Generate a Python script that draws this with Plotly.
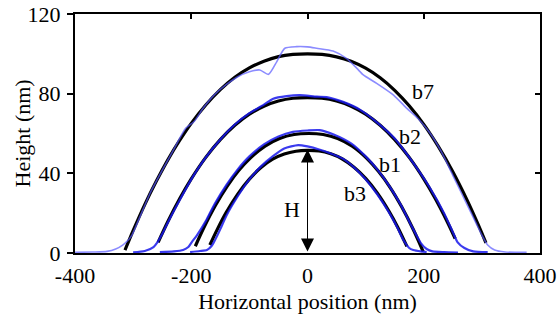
import plotly.graph_objects as go

# ---- data ----
# fitted profiles (black)
b7_fit_x = [-314, -300, -280, -260, -240, -220, -200, -175, -150, -125, -100, -75, -50, -25, 0,
            25, 50, 75, 100, 125, 150, 175, 200, 225, 250, 275, 295, 307]
b7_fit_y = [1.4, 11.2, 24.3, 36.1, 46.9, 56.5, 65.1, 74.3, 82.0, 88.2, 92.9, 96.3, 98.6, 99.7, 100,
            99.7, 98.5, 96.3, 92.8, 88.0, 81.7, 73.9, 64.6, 53.5, 40.8, 26.3, 13.4, 5.1]

b2_fit_x = [-257, -240, -220, -200, -175, -150, -125, -100, -75, -50, -25, 0,
            25, 50, 75, 100, 125, 150, 175, 200, 220, 240, 254]
b2_fit_y = [5.3, 15.9, 27.2, 37.2, 48.0, 56.9, 64.1, 69.7, 73.7, 76.3, 77.7, 78,
            77.7, 76.3, 73.7, 69.7, 64.1, 56.9, 48.0, 37.2, 27.2, 15.9, 7.2]

b1_fit_x = [-193, -178, -158, -138, -118, -98, -73, -48, -23, 2,
            27, 52, 77, 102, 122, 142, 162, 182, 199]
b1_fit_y = [3.4, 12.9, 24.1, 33.6, 41.5, 47.8, 53.7, 57.5, 59.5, 60,
            59.5, 57.5, 53.6, 47.5, 41.0, 33.0, 23.2, 11.8, 0.7]

b3_fit_x = [-168, -155, -140, -120, -100, -80, -60, -40, -20, 0,
            20, 40, 60, 80, 100, 120, 140, 155, 171]
b3_fit_y = [4.0, 12.0, 20.3, 29.6, 37.1, 42.9, 47.1, 49.7, 51.1, 51.5,
            51.2, 49.8, 47.2, 43.1, 37.5, 30.2, 21.1, 13.1, 3.3]

# measured profiles (blue)
b7_meas_x = [-400, -370, -345, -330, -318, -310, -302, -290, -270, -250, -230, -210, -195, -180,
             -160, -140, -120, -100, -82, -67, -53, -39, -19, 0, 16, 44, 67, 85, 96, 119, 148,
             171, 190, 210, 230, 250, 270, 290, 300, 310, 322, 340, 377]
b7_meas_y = [0.3, 0.5, 0.8, 2, 4, 6, 9, 17, 30.5, 41.5, 52, 62.5, 66, 72.5,
             79.5, 84.5, 88.5, 91, 91.9, 89.7, 96, 102.8, 103.6, 103.5, 102.8, 101.4, 97.7, 92.7,
             89.4, 85.2, 79.3, 72.6, 67.5, 60.5, 51, 39, 27, 15, 9, 4, 1.5, 0.5, 0.3]

b2_meas_x = [-300, -280, -265, -258, -250, -240, -220, -200, -175, -150, -125, -100, -75, -59,
             -36, -13, 16, 33, 60, 90, 120, 150, 180, 210, 235, 250, 258, 270, 285, 310]
b2_meas_y = [0.3, 1, 3, 5.5, 9.5, 15.5, 26.5, 37, 48, 57, 64.5, 70.2, 74.5, 77.5,
             78.8, 79.3, 78.5, 78.3, 76, 72, 65.5, 57.5, 46, 33, 20, 10.5, 5.5, 2.5, 0.8, 0.4]

b1_meas_x = [-254, -230, -214, -205, -199, -190, -175, -160, -140, -120, -100, -75, -50, -25, 0,
             21, 45, 75, 100, 120, 140, 160, 180, 195, 205, 215, 235, 259]
b1_meas_y = [0.4, 0.8, 1.5, 3, 5.5, 9, 16, 24.5, 34, 42, 48.5, 54.5, 58.5, 60.8, 61.5,
             61.7, 59.5, 55, 48.5, 42, 34, 24.5, 13, 5, 2, 0.8, 0.4, 0.2]

b3_meas_x = [-202, -185, -173, -165, -160, -150, -140, -120, -100, -80, -60, -40, -16, 0,
             20, 40, 60, 80, 100, 120, 140, 155, 165, 175, 182, 195, 205]
b3_meas_y = [0.5, 1, 1.5, 3.5, 6, 12, 18.5, 28.5, 37, 43.5, 48.5, 52.5, 54.2, 53.5,
             52, 50, 47.5, 43, 37, 29.5, 20.5, 12.5, 6.5, 2.5, 1.5, 0.8, 0.5]

labels = ["b7", "b2", "b1", "b3"]
label_x = [199, 176, 142, 82]
label_y = [81, 58.4, 44.2, 30]

x_ticks = [-400, -200, 0, 200, 400]
x_tick_text = ["-400", "-200", "0", "200", "400"]
y_ticks = [0, 40, 80, 120]
y_tick_text = ["0", "40", "80", "120"]

H_peak = 52

# ---- figure ----
FONT = "Liberation Serif, Times New Roman, serif"
fig = go.Figure()

fits = [(b7_fit_x, b7_fit_y), (b2_fit_x, b2_fit_y), (b1_fit_x, b1_fit_y), (b3_fit_x, b3_fit_y)]
meas = [(b7_meas_x, b7_meas_y, "rgba(90,90,255,0.7)", 1.6),
        (b2_meas_x, b2_meas_y, "rgba(25,25,235,0.85)", 2.2),
        (b1_meas_x, b1_meas_y, "rgba(25,25,235,0.85)", 2.2),
        (b3_meas_x, b3_meas_y, "rgba(25,25,235,0.85)", 2.2)]

for fx, fy in fits:
    fig.add_trace(go.Scatter(x=fx, y=fy, mode="lines", line=dict(color="black", width=3.2, shape="spline"),
                             showlegend=False, hoverinfo="skip"))
for mx, my, col, w in meas:
    fig.add_trace(go.Scatter(x=mx, y=my, mode="lines", line=dict(color=col, width=w, shape="spline", smoothing=0.6),
                             showlegend=False, hoverinfo="skip"))

# overlay trace for mirrored (inside-tick) axes
fig.add_trace(go.Scatter(x=[None], y=[None], xaxis="x2", yaxis="y2", showlegend=False, hoverinfo="skip"))

for t, tx, ty in zip(labels, label_x, label_y):
    fig.add_annotation(x=tx, y=ty, text=t, showarrow=False, font=dict(family=FONT, size=22, color="black"))

fig.add_annotation(x=-27, y=21.6, text="H", showarrow=False, font=dict(family=FONT, size=22, color="black"))
fig.add_annotation(x=0, y=H_peak, ax=0, ay=0, xref="x", yref="y", axref="x", ayref="y",
                   text="", showarrow=True, arrowhead=2, startarrowhead=2, arrowside="end+start",
                   arrowsize=2.6, startarrowsize=2.6, arrowwidth=1, arrowcolor="black")

common_font = dict(family=FONT, size=22, color="black")

# y-axis title as a rotated annotation so it can sit where the reference has it
fig.add_annotation(x=0, xref="paper", y=0.5, yref="paper", xanchor="center", yanchor="middle",
                   xshift=-53, text="Height (nm)", textangle=-90, showarrow=False, font=common_font)

fig.update_layout(
    width=558, height=322,
    margin=dict(l=75, r=18, t=14, b=69, autoexpand=False),
    paper_bgcolor="white", plot_bgcolor="white",
    font=common_font,
    hovermode=False,
    xaxis=dict(range=[-400, 400], tickvals=x_ticks, ticktext=x_tick_text, ticks="", showgrid=False, zeroline=False,
               showline=True, linecolor="black", linewidth=2, mirror=True, automargin=False,
               tickfont=common_font, ticklabelstandoff=2,
               title=dict(text="Horizontal position (nm)", font=common_font, standoff=6)),
    yaxis=dict(range=[0, 120], tickvals=y_ticks, ticktext=y_tick_text, ticks="outside", ticklen=6, tickwidth=1.5,
               tickcolor="black", automargin=False,
               showgrid=False, zeroline=False, showline=True, linecolor="black", linewidth=2, mirror=True,
               tickfont=common_font, ticklabelstandoff=2),
    xaxis2=dict(range=[-400, 400], tickvals=x_ticks, ticks="inside", ticklen=5, tickwidth=1.5, tickcolor="black",
                overlaying="x", side="top", showticklabels=False, showgrid=False, zeroline=False, showline=False,
                automargin=False),
    yaxis2=dict(range=[0, 120], tickvals=y_ticks, ticks="inside", ticklen=5, tickwidth=1.5, tickcolor="black",
                overlaying="y", side="right", showticklabels=False, showgrid=False, zeroline=False, showline=False,
                automargin=False),
)

fig.write_html("out.html", config={"displayModeBar": False},
               post_script="document.body.style.margin='0';document.body.style.overflow='hidden';")
